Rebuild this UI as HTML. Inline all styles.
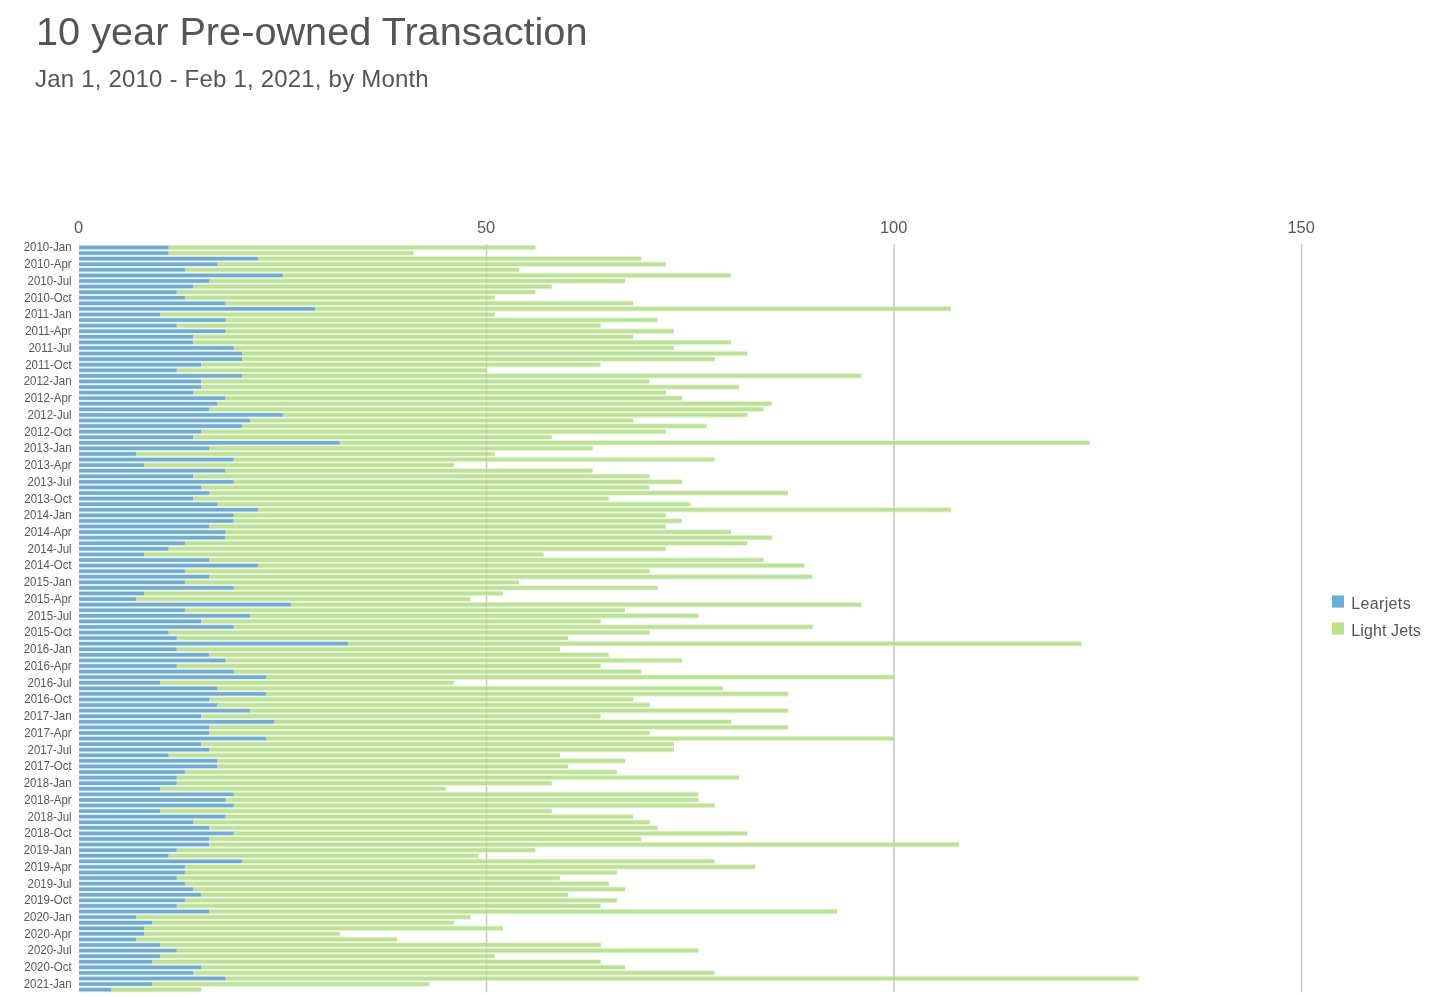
<!DOCTYPE html>
<html><head><meta charset="utf-8"><title>10 year Pre-owned Transaction</title>
<style>
html,body{margin:0;padding:0;background:#fff;}
body{width:1445px;height:997px;position:relative;overflow:hidden;font-family:"Liberation Sans",sans-serif;}
.t,.s{will-change:transform;}
.t{position:absolute;left:36.2px;top:8.0px;font-size:39.7px;line-height:46px;color:#555;white-space:nowrap;}
.s{position:absolute;left:35.2px;top:64.5px;font-size:24px;letter-spacing:0.2px;line-height:28px;color:#555;white-space:nowrap;}
</style></head><body>
<div class="t" id="t">10 year Pre-owned Transaction</div>
<div class="s" id="s">Jan 1, 2010 - Feb 1, 2021, by Month</div>
<svg width="1445" height="997" viewBox="0 0 1445 997" style="position:absolute;left:0;top:0;will-change:transform">
<g fill="#cdcdcd"><rect x="485.80" y="244.3" width="1.4" height="748"/><rect x="893.30" y="244.3" width="1.4" height="748"/><rect x="1300.80" y="244.3" width="1.4" height="748"/></g>
<g fill="#d6f8fb"><rect x="79.0" y="244.71" width="89.7" height="5.58"/><rect x="79.0" y="250.29" width="89.7" height="5.58"/><rect x="79.0" y="255.87" width="179.3" height="5.58"/><rect x="79.0" y="261.45" width="138.6" height="5.58"/><rect x="79.0" y="267.03" width="105.9" height="5.58"/><rect x="79.0" y="272.61" width="203.8" height="5.58"/><rect x="79.0" y="278.19" width="130.4" height="5.58"/><rect x="79.0" y="283.77" width="114.1" height="5.58"/><rect x="79.0" y="289.35" width="97.8" height="5.58"/><rect x="79.0" y="294.93" width="105.9" height="5.58"/><rect x="79.0" y="300.51" width="146.7" height="5.58"/><rect x="79.0" y="306.09" width="236.4" height="5.58"/><rect x="79.0" y="311.67" width="81.5" height="5.58"/><rect x="79.0" y="317.25" width="146.7" height="5.58"/><rect x="79.0" y="322.83" width="97.8" height="5.58"/><rect x="79.0" y="328.41" width="146.7" height="5.58"/><rect x="79.0" y="333.99" width="114.1" height="5.58"/><rect x="79.0" y="339.57" width="114.1" height="5.58"/><rect x="79.0" y="345.15" width="154.8" height="5.58"/><rect x="79.0" y="350.73" width="163.0" height="5.58"/><rect x="79.0" y="356.31" width="163.0" height="5.58"/><rect x="79.0" y="361.89" width="122.2" height="5.58"/><rect x="79.0" y="367.47" width="97.8" height="5.58"/><rect x="79.0" y="373.05" width="163.0" height="5.58"/><rect x="79.0" y="378.63" width="122.2" height="5.58"/><rect x="79.0" y="384.21" width="122.2" height="5.58"/><rect x="79.0" y="389.79" width="114.1" height="5.58"/><rect x="79.0" y="395.37" width="146.7" height="5.58"/><rect x="79.0" y="400.95" width="138.6" height="5.58"/><rect x="79.0" y="406.53" width="130.4" height="5.58"/><rect x="79.0" y="412.11" width="203.8" height="5.58"/><rect x="79.0" y="417.69" width="171.2" height="5.58"/><rect x="79.0" y="423.27" width="163.0" height="5.58"/><rect x="79.0" y="428.85" width="122.2" height="5.58"/><rect x="79.0" y="434.43" width="114.1" height="5.58"/><rect x="79.0" y="440.01" width="260.8" height="5.58"/><rect x="79.0" y="445.59" width="130.4" height="5.58"/><rect x="79.0" y="451.17" width="57.1" height="5.58"/><rect x="79.0" y="456.75" width="154.8" height="5.58"/><rect x="79.0" y="462.33" width="65.2" height="5.58"/><rect x="79.0" y="467.91" width="146.7" height="5.58"/><rect x="79.0" y="473.49" width="114.1" height="5.58"/><rect x="79.0" y="479.07" width="154.8" height="5.58"/><rect x="79.0" y="484.65" width="122.2" height="5.58"/><rect x="79.0" y="490.23" width="130.4" height="5.58"/><rect x="79.0" y="495.81" width="114.1" height="5.58"/><rect x="79.0" y="501.39" width="138.6" height="5.58"/><rect x="79.0" y="506.97" width="179.3" height="5.58"/><rect x="79.0" y="512.55" width="154.8" height="5.58"/><rect x="79.0" y="518.13" width="154.8" height="5.58"/><rect x="79.0" y="523.71" width="130.4" height="5.58"/><rect x="79.0" y="529.29" width="146.7" height="5.58"/><rect x="79.0" y="534.87" width="146.7" height="5.58"/><rect x="79.0" y="540.45" width="105.9" height="5.58"/><rect x="79.0" y="546.03" width="89.7" height="5.58"/><rect x="79.0" y="551.61" width="65.2" height="5.58"/><rect x="79.0" y="557.19" width="130.4" height="5.58"/><rect x="79.0" y="562.77" width="179.3" height="5.58"/><rect x="79.0" y="568.35" width="105.9" height="5.58"/><rect x="79.0" y="573.93" width="130.4" height="5.58"/><rect x="79.0" y="579.51" width="105.9" height="5.58"/><rect x="79.0" y="585.09" width="154.8" height="5.58"/><rect x="79.0" y="590.67" width="65.2" height="5.58"/><rect x="79.0" y="596.25" width="57.1" height="5.58"/><rect x="79.0" y="601.83" width="211.9" height="5.58"/><rect x="79.0" y="607.41" width="105.9" height="5.58"/><rect x="79.0" y="612.99" width="171.2" height="5.58"/><rect x="79.0" y="618.57" width="122.2" height="5.58"/><rect x="79.0" y="624.15" width="154.8" height="5.58"/><rect x="79.0" y="629.73" width="89.7" height="5.58"/><rect x="79.0" y="635.31" width="97.8" height="5.58"/><rect x="79.0" y="640.89" width="268.9" height="5.58"/><rect x="79.0" y="646.47" width="97.8" height="5.58"/><rect x="79.0" y="652.05" width="130.4" height="5.58"/><rect x="79.0" y="657.63" width="146.7" height="5.58"/><rect x="79.0" y="663.21" width="97.8" height="5.58"/><rect x="79.0" y="668.79" width="154.8" height="5.58"/><rect x="79.0" y="674.37" width="187.5" height="5.58"/><rect x="79.0" y="679.95" width="81.5" height="5.58"/><rect x="79.0" y="685.53" width="138.6" height="5.58"/><rect x="79.0" y="691.11" width="187.5" height="5.58"/><rect x="79.0" y="696.69" width="130.4" height="5.58"/><rect x="79.0" y="702.27" width="138.6" height="5.58"/><rect x="79.0" y="707.85" width="171.2" height="5.58"/><rect x="79.0" y="713.43" width="122.2" height="5.58"/><rect x="79.0" y="719.01" width="195.6" height="5.58"/><rect x="79.0" y="724.59" width="130.4" height="5.58"/><rect x="79.0" y="730.17" width="130.4" height="5.58"/><rect x="79.0" y="735.75" width="187.5" height="5.58"/><rect x="79.0" y="741.33" width="122.2" height="5.58"/><rect x="79.0" y="746.91" width="130.4" height="5.58"/><rect x="79.0" y="752.49" width="89.7" height="5.58"/><rect x="79.0" y="758.07" width="138.6" height="5.58"/><rect x="79.0" y="763.65" width="138.6" height="5.58"/><rect x="79.0" y="769.23" width="105.9" height="5.58"/><rect x="79.0" y="774.81" width="97.8" height="5.58"/><rect x="79.0" y="780.39" width="97.8" height="5.58"/><rect x="79.0" y="785.97" width="81.5" height="5.58"/><rect x="79.0" y="791.55" width="154.8" height="5.58"/><rect x="79.0" y="797.13" width="146.7" height="5.58"/><rect x="79.0" y="802.71" width="154.8" height="5.58"/><rect x="79.0" y="808.29" width="81.5" height="5.58"/><rect x="79.0" y="813.87" width="146.7" height="5.58"/><rect x="79.0" y="819.45" width="114.1" height="5.58"/><rect x="79.0" y="825.03" width="130.4" height="5.58"/><rect x="79.0" y="830.61" width="154.8" height="5.58"/><rect x="79.0" y="836.19" width="130.4" height="5.58"/><rect x="79.0" y="841.77" width="130.4" height="5.58"/><rect x="79.0" y="847.35" width="97.8" height="5.58"/><rect x="79.0" y="852.93" width="89.7" height="5.58"/><rect x="79.0" y="858.51" width="163.0" height="5.58"/><rect x="79.0" y="864.09" width="105.9" height="5.58"/><rect x="79.0" y="869.67" width="105.9" height="5.58"/><rect x="79.0" y="875.25" width="97.8" height="5.58"/><rect x="79.0" y="880.83" width="105.9" height="5.58"/><rect x="79.0" y="886.41" width="114.1" height="5.58"/><rect x="79.0" y="891.99" width="122.2" height="5.58"/><rect x="79.0" y="897.57" width="105.9" height="5.58"/><rect x="79.0" y="903.15" width="97.8" height="5.58"/><rect x="79.0" y="908.73" width="130.4" height="5.58"/><rect x="79.0" y="914.31" width="57.1" height="5.58"/><rect x="79.0" y="919.89" width="73.4" height="5.58"/><rect x="79.0" y="925.47" width="65.2" height="5.58"/><rect x="79.0" y="931.05" width="65.2" height="5.58"/><rect x="79.0" y="936.63" width="57.1" height="5.58"/><rect x="79.0" y="942.21" width="81.5" height="5.58"/><rect x="79.0" y="947.79" width="97.8" height="5.58"/><rect x="79.0" y="953.37" width="81.5" height="5.58"/><rect x="79.0" y="958.95" width="73.4" height="5.58"/><rect x="79.0" y="964.53" width="122.2" height="5.58"/><rect x="79.0" y="970.11" width="114.1" height="5.58"/><rect x="79.0" y="975.69" width="146.7" height="5.58"/><rect x="79.0" y="981.27" width="73.4" height="5.58"/><rect x="79.0" y="986.85" width="32.6" height="5.58"/></g>
<g fill="#e4fad1"><rect x="168.7" y="244.71" width="366.8" height="5.58"/><rect x="168.7" y="250.29" width="244.5" height="5.58"/><rect x="258.3" y="255.87" width="383.1" height="5.58"/><rect x="217.6" y="261.45" width="448.3" height="5.58"/><rect x="184.9" y="267.03" width="334.2" height="5.58"/><rect x="282.8" y="272.61" width="448.2" height="5.58"/><rect x="209.4" y="278.19" width="415.7" height="5.58"/><rect x="193.1" y="283.77" width="358.6" height="5.58"/><rect x="176.8" y="289.35" width="358.6" height="5.58"/><rect x="184.9" y="294.93" width="309.7" height="5.58"/><rect x="225.7" y="300.51" width="407.5" height="5.58"/><rect x="315.4" y="306.09" width="635.7" height="5.58"/><rect x="160.5" y="311.67" width="334.2" height="5.58"/><rect x="225.7" y="317.25" width="431.9" height="5.58"/><rect x="176.8" y="322.83" width="423.8" height="5.58"/><rect x="225.7" y="328.41" width="448.2" height="5.58"/><rect x="193.1" y="333.99" width="440.1" height="5.58"/><rect x="193.1" y="339.57" width="537.9" height="5.58"/><rect x="233.8" y="345.15" width="440.1" height="5.58"/><rect x="242.0" y="350.73" width="505.3" height="5.58"/><rect x="242.0" y="356.31" width="472.7" height="5.58"/><rect x="201.2" y="361.89" width="399.4" height="5.58"/><rect x="176.8" y="367.47" width="309.7" height="5.58"/><rect x="242.0" y="373.05" width="619.4" height="5.58"/><rect x="201.2" y="378.63" width="448.2" height="5.58"/><rect x="201.2" y="384.21" width="537.9" height="5.58"/><rect x="193.1" y="389.79" width="472.7" height="5.58"/><rect x="225.7" y="395.37" width="456.4" height="5.58"/><rect x="217.6" y="400.95" width="554.2" height="5.58"/><rect x="209.4" y="406.53" width="554.2" height="5.58"/><rect x="282.8" y="412.11" width="464.6" height="5.58"/><rect x="250.2" y="417.69" width="383.1" height="5.58"/><rect x="242.0" y="423.27" width="464.6" height="5.58"/><rect x="201.2" y="428.85" width="464.6" height="5.58"/><rect x="193.1" y="434.43" width="358.6" height="5.58"/><rect x="339.8" y="440.01" width="749.8" height="5.58"/><rect x="209.4" y="445.59" width="383.1" height="5.58"/><rect x="136.1" y="451.17" width="358.6" height="5.58"/><rect x="233.8" y="456.75" width="480.9" height="5.58"/><rect x="144.2" y="462.33" width="309.7" height="5.58"/><rect x="225.7" y="467.91" width="366.8" height="5.58"/><rect x="193.1" y="473.49" width="456.4" height="5.58"/><rect x="233.8" y="479.07" width="448.2" height="5.58"/><rect x="201.2" y="484.65" width="448.2" height="5.58"/><rect x="209.4" y="490.23" width="578.7" height="5.58"/><rect x="193.1" y="495.81" width="415.6" height="5.58"/><rect x="217.6" y="501.39" width="472.7" height="5.58"/><rect x="258.3" y="506.97" width="692.8" height="5.58"/><rect x="233.8" y="512.55" width="432.0" height="5.58"/><rect x="233.8" y="518.13" width="448.2" height="5.58"/><rect x="209.4" y="523.71" width="456.4" height="5.58"/><rect x="225.7" y="529.29" width="505.3" height="5.58"/><rect x="225.7" y="534.87" width="546.0" height="5.58"/><rect x="184.9" y="540.45" width="562.4" height="5.58"/><rect x="168.7" y="546.03" width="497.2" height="5.58"/><rect x="144.2" y="551.61" width="399.3" height="5.58"/><rect x="209.4" y="557.19" width="554.2" height="5.58"/><rect x="258.3" y="562.77" width="546.0" height="5.58"/><rect x="184.9" y="568.35" width="464.6" height="5.58"/><rect x="209.4" y="573.93" width="603.1" height="5.58"/><rect x="184.9" y="579.51" width="334.2" height="5.58"/><rect x="233.8" y="585.09" width="423.8" height="5.58"/><rect x="144.2" y="590.67" width="358.6" height="5.58"/><rect x="136.1" y="596.25" width="334.2" height="5.58"/><rect x="290.9" y="601.83" width="570.5" height="5.58"/><rect x="184.9" y="607.41" width="440.1" height="5.58"/><rect x="250.2" y="612.99" width="448.2" height="5.58"/><rect x="201.2" y="618.57" width="399.4" height="5.58"/><rect x="233.8" y="624.15" width="578.6" height="5.58"/><rect x="168.7" y="629.73" width="480.9" height="5.58"/><rect x="176.8" y="635.31" width="391.2" height="5.58"/><rect x="347.9" y="640.89" width="733.5" height="5.58"/><rect x="176.8" y="646.47" width="383.1" height="5.58"/><rect x="209.4" y="652.05" width="399.4" height="5.58"/><rect x="225.7" y="657.63" width="456.4" height="5.58"/><rect x="176.8" y="663.21" width="423.8" height="5.58"/><rect x="233.8" y="668.79" width="407.5" height="5.58"/><rect x="266.5" y="674.37" width="627.5" height="5.58"/><rect x="160.5" y="679.95" width="293.4" height="5.58"/><rect x="217.6" y="685.53" width="505.3" height="5.58"/><rect x="266.5" y="691.11" width="521.6" height="5.58"/><rect x="209.4" y="696.69" width="423.8" height="5.58"/><rect x="217.6" y="702.27" width="431.9" height="5.58"/><rect x="250.2" y="707.85" width="537.9" height="5.58"/><rect x="201.2" y="713.43" width="399.4" height="5.58"/><rect x="274.6" y="719.01" width="456.4" height="5.58"/><rect x="209.4" y="724.59" width="578.7" height="5.58"/><rect x="209.4" y="730.17" width="440.1" height="5.58"/><rect x="266.5" y="735.75" width="627.5" height="5.58"/><rect x="201.2" y="741.33" width="472.7" height="5.58"/><rect x="209.4" y="746.91" width="464.6" height="5.58"/><rect x="168.7" y="752.49" width="391.2" height="5.58"/><rect x="217.6" y="758.07" width="407.5" height="5.58"/><rect x="217.6" y="763.65" width="350.4" height="5.58"/><rect x="184.9" y="769.23" width="431.9" height="5.58"/><rect x="176.8" y="774.81" width="562.3" height="5.58"/><rect x="176.8" y="780.39" width="374.9" height="5.58"/><rect x="160.5" y="785.97" width="285.2" height="5.58"/><rect x="233.8" y="791.55" width="464.5" height="5.58"/><rect x="225.7" y="797.13" width="472.7" height="5.58"/><rect x="233.8" y="802.71" width="480.9" height="5.58"/><rect x="160.5" y="808.29" width="391.2" height="5.58"/><rect x="225.7" y="813.87" width="407.5" height="5.58"/><rect x="193.1" y="819.45" width="456.4" height="5.58"/><rect x="209.4" y="825.03" width="448.2" height="5.58"/><rect x="233.8" y="830.61" width="513.5" height="5.58"/><rect x="209.4" y="836.19" width="432.0" height="5.58"/><rect x="209.4" y="841.77" width="749.8" height="5.58"/><rect x="176.8" y="847.35" width="358.6" height="5.58"/><rect x="168.7" y="852.93" width="309.7" height="5.58"/><rect x="242.0" y="858.51" width="472.7" height="5.58"/><rect x="184.9" y="864.09" width="570.5" height="5.58"/><rect x="184.9" y="869.67" width="431.9" height="5.58"/><rect x="176.8" y="875.25" width="383.1" height="5.58"/><rect x="184.9" y="880.83" width="423.8" height="5.58"/><rect x="193.1" y="886.41" width="432.0" height="5.58"/><rect x="201.2" y="891.99" width="366.8" height="5.58"/><rect x="184.9" y="897.57" width="431.9" height="5.58"/><rect x="176.8" y="903.15" width="423.8" height="5.58"/><rect x="209.4" y="908.73" width="627.6" height="5.58"/><rect x="136.1" y="914.31" width="334.2" height="5.58"/><rect x="152.4" y="919.89" width="301.6" height="5.58"/><rect x="144.2" y="925.47" width="358.6" height="5.58"/><rect x="144.2" y="931.05" width="195.6" height="5.58"/><rect x="136.1" y="936.63" width="260.8" height="5.58"/><rect x="160.5" y="942.21" width="440.1" height="5.58"/><rect x="176.8" y="947.79" width="521.6" height="5.58"/><rect x="160.5" y="953.37" width="334.2" height="5.58"/><rect x="152.4" y="958.95" width="448.2" height="5.58"/><rect x="201.2" y="964.53" width="423.8" height="5.58"/><rect x="193.1" y="970.11" width="521.6" height="5.58"/><rect x="225.7" y="975.69" width="912.8" height="5.58"/><rect x="152.4" y="981.27" width="277.1" height="5.58"/><rect x="111.6" y="986.85" width="89.7" height="5.58"/></g>
<g fill="#79a8cc"><rect x="79.0" y="245.70" width="89.7" height="3.6"/><rect x="79.0" y="251.28" width="89.7" height="3.6"/><rect x="79.0" y="256.86" width="179.3" height="3.6"/><rect x="79.0" y="262.44" width="138.6" height="3.6"/><rect x="79.0" y="268.02" width="105.9" height="3.6"/><rect x="79.0" y="273.60" width="203.8" height="3.6"/><rect x="79.0" y="279.18" width="130.4" height="3.6"/><rect x="79.0" y="284.76" width="114.1" height="3.6"/><rect x="79.0" y="290.34" width="97.8" height="3.6"/><rect x="79.0" y="295.92" width="105.9" height="3.6"/><rect x="79.0" y="301.50" width="146.7" height="3.6"/><rect x="79.0" y="307.08" width="236.4" height="3.6"/><rect x="79.0" y="312.66" width="81.5" height="3.6"/><rect x="79.0" y="318.24" width="146.7" height="3.6"/><rect x="79.0" y="323.82" width="97.8" height="3.6"/><rect x="79.0" y="329.40" width="146.7" height="3.6"/><rect x="79.0" y="334.98" width="114.1" height="3.6"/><rect x="79.0" y="340.56" width="114.1" height="3.6"/><rect x="79.0" y="346.14" width="154.8" height="3.6"/><rect x="79.0" y="351.72" width="163.0" height="3.6"/><rect x="79.0" y="357.30" width="163.0" height="3.6"/><rect x="79.0" y="362.88" width="122.2" height="3.6"/><rect x="79.0" y="368.46" width="97.8" height="3.6"/><rect x="79.0" y="374.04" width="163.0" height="3.6"/><rect x="79.0" y="379.62" width="122.2" height="3.6"/><rect x="79.0" y="385.20" width="122.2" height="3.6"/><rect x="79.0" y="390.78" width="114.1" height="3.6"/><rect x="79.0" y="396.36" width="146.7" height="3.6"/><rect x="79.0" y="401.94" width="138.6" height="3.6"/><rect x="79.0" y="407.52" width="130.4" height="3.6"/><rect x="79.0" y="413.10" width="203.8" height="3.6"/><rect x="79.0" y="418.68" width="171.2" height="3.6"/><rect x="79.0" y="424.26" width="163.0" height="3.6"/><rect x="79.0" y="429.84" width="122.2" height="3.6"/><rect x="79.0" y="435.42" width="114.1" height="3.6"/><rect x="79.0" y="441.00" width="260.8" height="3.6"/><rect x="79.0" y="446.58" width="130.4" height="3.6"/><rect x="79.0" y="452.16" width="57.1" height="3.6"/><rect x="79.0" y="457.74" width="154.8" height="3.6"/><rect x="79.0" y="463.32" width="65.2" height="3.6"/><rect x="79.0" y="468.90" width="146.7" height="3.6"/><rect x="79.0" y="474.48" width="114.1" height="3.6"/><rect x="79.0" y="480.06" width="154.8" height="3.6"/><rect x="79.0" y="485.64" width="122.2" height="3.6"/><rect x="79.0" y="491.22" width="130.4" height="3.6"/><rect x="79.0" y="496.80" width="114.1" height="3.6"/><rect x="79.0" y="502.38" width="138.6" height="3.6"/><rect x="79.0" y="507.96" width="179.3" height="3.6"/><rect x="79.0" y="513.54" width="154.8" height="3.6"/><rect x="79.0" y="519.12" width="154.8" height="3.6"/><rect x="79.0" y="524.70" width="130.4" height="3.6"/><rect x="79.0" y="530.28" width="146.7" height="3.6"/><rect x="79.0" y="535.86" width="146.7" height="3.6"/><rect x="79.0" y="541.44" width="105.9" height="3.6"/><rect x="79.0" y="547.02" width="89.7" height="3.6"/><rect x="79.0" y="552.60" width="65.2" height="3.6"/><rect x="79.0" y="558.18" width="130.4" height="3.6"/><rect x="79.0" y="563.76" width="179.3" height="3.6"/><rect x="79.0" y="569.34" width="105.9" height="3.6"/><rect x="79.0" y="574.92" width="130.4" height="3.6"/><rect x="79.0" y="580.50" width="105.9" height="3.6"/><rect x="79.0" y="586.08" width="154.8" height="3.6"/><rect x="79.0" y="591.66" width="65.2" height="3.6"/><rect x="79.0" y="597.24" width="57.1" height="3.6"/><rect x="79.0" y="602.82" width="211.9" height="3.6"/><rect x="79.0" y="608.40" width="105.9" height="3.6"/><rect x="79.0" y="613.98" width="171.2" height="3.6"/><rect x="79.0" y="619.56" width="122.2" height="3.6"/><rect x="79.0" y="625.14" width="154.8" height="3.6"/><rect x="79.0" y="630.72" width="89.7" height="3.6"/><rect x="79.0" y="636.30" width="97.8" height="3.6"/><rect x="79.0" y="641.88" width="268.9" height="3.6"/><rect x="79.0" y="647.46" width="97.8" height="3.6"/><rect x="79.0" y="653.04" width="130.4" height="3.6"/><rect x="79.0" y="658.62" width="146.7" height="3.6"/><rect x="79.0" y="664.20" width="97.8" height="3.6"/><rect x="79.0" y="669.78" width="154.8" height="3.6"/><rect x="79.0" y="675.36" width="187.5" height="3.6"/><rect x="79.0" y="680.94" width="81.5" height="3.6"/><rect x="79.0" y="686.52" width="138.6" height="3.6"/><rect x="79.0" y="692.10" width="187.5" height="3.6"/><rect x="79.0" y="697.68" width="130.4" height="3.6"/><rect x="79.0" y="703.26" width="138.6" height="3.6"/><rect x="79.0" y="708.84" width="171.2" height="3.6"/><rect x="79.0" y="714.42" width="122.2" height="3.6"/><rect x="79.0" y="720.00" width="195.6" height="3.6"/><rect x="79.0" y="725.58" width="130.4" height="3.6"/><rect x="79.0" y="731.16" width="130.4" height="3.6"/><rect x="79.0" y="736.74" width="187.5" height="3.6"/><rect x="79.0" y="742.32" width="122.2" height="3.6"/><rect x="79.0" y="747.90" width="130.4" height="3.6"/><rect x="79.0" y="753.48" width="89.7" height="3.6"/><rect x="79.0" y="759.06" width="138.6" height="3.6"/><rect x="79.0" y="764.64" width="138.6" height="3.6"/><rect x="79.0" y="770.22" width="105.9" height="3.6"/><rect x="79.0" y="775.80" width="97.8" height="3.6"/><rect x="79.0" y="781.38" width="97.8" height="3.6"/><rect x="79.0" y="786.96" width="81.5" height="3.6"/><rect x="79.0" y="792.54" width="154.8" height="3.6"/><rect x="79.0" y="798.12" width="146.7" height="3.6"/><rect x="79.0" y="803.70" width="154.8" height="3.6"/><rect x="79.0" y="809.28" width="81.5" height="3.6"/><rect x="79.0" y="814.86" width="146.7" height="3.6"/><rect x="79.0" y="820.44" width="114.1" height="3.6"/><rect x="79.0" y="826.02" width="130.4" height="3.6"/><rect x="79.0" y="831.60" width="154.8" height="3.6"/><rect x="79.0" y="837.18" width="130.4" height="3.6"/><rect x="79.0" y="842.76" width="130.4" height="3.6"/><rect x="79.0" y="848.34" width="97.8" height="3.6"/><rect x="79.0" y="853.92" width="89.7" height="3.6"/><rect x="79.0" y="859.50" width="163.0" height="3.6"/><rect x="79.0" y="865.08" width="105.9" height="3.6"/><rect x="79.0" y="870.66" width="105.9" height="3.6"/><rect x="79.0" y="876.24" width="97.8" height="3.6"/><rect x="79.0" y="881.82" width="105.9" height="3.6"/><rect x="79.0" y="887.40" width="114.1" height="3.6"/><rect x="79.0" y="892.98" width="122.2" height="3.6"/><rect x="79.0" y="898.56" width="105.9" height="3.6"/><rect x="79.0" y="904.14" width="97.8" height="3.6"/><rect x="79.0" y="909.72" width="130.4" height="3.6"/><rect x="79.0" y="915.30" width="57.1" height="3.6"/><rect x="79.0" y="920.88" width="73.4" height="3.6"/><rect x="79.0" y="926.46" width="65.2" height="3.6"/><rect x="79.0" y="932.04" width="65.2" height="3.6"/><rect x="79.0" y="937.62" width="57.1" height="3.6"/><rect x="79.0" y="943.20" width="81.5" height="3.6"/><rect x="79.0" y="948.78" width="97.8" height="3.6"/><rect x="79.0" y="954.36" width="81.5" height="3.6"/><rect x="79.0" y="959.94" width="73.4" height="3.6"/><rect x="79.0" y="965.52" width="122.2" height="3.6"/><rect x="79.0" y="971.10" width="114.1" height="3.6"/><rect x="79.0" y="976.68" width="146.7" height="3.6"/><rect x="79.0" y="982.26" width="73.4" height="3.6"/><rect x="79.0" y="987.84" width="32.6" height="3.6"/></g>
<g fill="#c0df9d"><rect x="168.7" y="245.70" width="366.8" height="3.6"/><rect x="168.7" y="251.28" width="244.5" height="3.6"/><rect x="258.3" y="256.86" width="383.1" height="3.6"/><rect x="217.6" y="262.44" width="448.3" height="3.6"/><rect x="184.9" y="268.02" width="334.2" height="3.6"/><rect x="282.8" y="273.60" width="448.2" height="3.6"/><rect x="209.4" y="279.18" width="415.7" height="3.6"/><rect x="193.1" y="284.76" width="358.6" height="3.6"/><rect x="176.8" y="290.34" width="358.6" height="3.6"/><rect x="184.9" y="295.92" width="309.7" height="3.6"/><rect x="225.7" y="301.50" width="407.5" height="3.6"/><rect x="315.4" y="307.08" width="635.7" height="3.6"/><rect x="160.5" y="312.66" width="334.2" height="3.6"/><rect x="225.7" y="318.24" width="431.9" height="3.6"/><rect x="176.8" y="323.82" width="423.8" height="3.6"/><rect x="225.7" y="329.40" width="448.2" height="3.6"/><rect x="193.1" y="334.98" width="440.1" height="3.6"/><rect x="193.1" y="340.56" width="537.9" height="3.6"/><rect x="233.8" y="346.14" width="440.1" height="3.6"/><rect x="242.0" y="351.72" width="505.3" height="3.6"/><rect x="242.0" y="357.30" width="472.7" height="3.6"/><rect x="201.2" y="362.88" width="399.4" height="3.6"/><rect x="176.8" y="368.46" width="309.7" height="3.6"/><rect x="242.0" y="374.04" width="619.4" height="3.6"/><rect x="201.2" y="379.62" width="448.2" height="3.6"/><rect x="201.2" y="385.20" width="537.9" height="3.6"/><rect x="193.1" y="390.78" width="472.7" height="3.6"/><rect x="225.7" y="396.36" width="456.4" height="3.6"/><rect x="217.6" y="401.94" width="554.2" height="3.6"/><rect x="209.4" y="407.52" width="554.2" height="3.6"/><rect x="282.8" y="413.10" width="464.6" height="3.6"/><rect x="250.2" y="418.68" width="383.1" height="3.6"/><rect x="242.0" y="424.26" width="464.6" height="3.6"/><rect x="201.2" y="429.84" width="464.6" height="3.6"/><rect x="193.1" y="435.42" width="358.6" height="3.6"/><rect x="339.8" y="441.00" width="749.8" height="3.6"/><rect x="209.4" y="446.58" width="383.1" height="3.6"/><rect x="136.1" y="452.16" width="358.6" height="3.6"/><rect x="233.8" y="457.74" width="480.9" height="3.6"/><rect x="144.2" y="463.32" width="309.7" height="3.6"/><rect x="225.7" y="468.90" width="366.8" height="3.6"/><rect x="193.1" y="474.48" width="456.4" height="3.6"/><rect x="233.8" y="480.06" width="448.2" height="3.6"/><rect x="201.2" y="485.64" width="448.2" height="3.6"/><rect x="209.4" y="491.22" width="578.7" height="3.6"/><rect x="193.1" y="496.80" width="415.6" height="3.6"/><rect x="217.6" y="502.38" width="472.7" height="3.6"/><rect x="258.3" y="507.96" width="692.8" height="3.6"/><rect x="233.8" y="513.54" width="432.0" height="3.6"/><rect x="233.8" y="519.12" width="448.2" height="3.6"/><rect x="209.4" y="524.70" width="456.4" height="3.6"/><rect x="225.7" y="530.28" width="505.3" height="3.6"/><rect x="225.7" y="535.86" width="546.0" height="3.6"/><rect x="184.9" y="541.44" width="562.4" height="3.6"/><rect x="168.7" y="547.02" width="497.2" height="3.6"/><rect x="144.2" y="552.60" width="399.3" height="3.6"/><rect x="209.4" y="558.18" width="554.2" height="3.6"/><rect x="258.3" y="563.76" width="546.0" height="3.6"/><rect x="184.9" y="569.34" width="464.6" height="3.6"/><rect x="209.4" y="574.92" width="603.1" height="3.6"/><rect x="184.9" y="580.50" width="334.2" height="3.6"/><rect x="233.8" y="586.08" width="423.8" height="3.6"/><rect x="144.2" y="591.66" width="358.6" height="3.6"/><rect x="136.1" y="597.24" width="334.2" height="3.6"/><rect x="290.9" y="602.82" width="570.5" height="3.6"/><rect x="184.9" y="608.40" width="440.1" height="3.6"/><rect x="250.2" y="613.98" width="448.2" height="3.6"/><rect x="201.2" y="619.56" width="399.4" height="3.6"/><rect x="233.8" y="625.14" width="578.6" height="3.6"/><rect x="168.7" y="630.72" width="480.9" height="3.6"/><rect x="176.8" y="636.30" width="391.2" height="3.6"/><rect x="347.9" y="641.88" width="733.5" height="3.6"/><rect x="176.8" y="647.46" width="383.1" height="3.6"/><rect x="209.4" y="653.04" width="399.4" height="3.6"/><rect x="225.7" y="658.62" width="456.4" height="3.6"/><rect x="176.8" y="664.20" width="423.8" height="3.6"/><rect x="233.8" y="669.78" width="407.5" height="3.6"/><rect x="266.5" y="675.36" width="627.5" height="3.6"/><rect x="160.5" y="680.94" width="293.4" height="3.6"/><rect x="217.6" y="686.52" width="505.3" height="3.6"/><rect x="266.5" y="692.10" width="521.6" height="3.6"/><rect x="209.4" y="697.68" width="423.8" height="3.6"/><rect x="217.6" y="703.26" width="431.9" height="3.6"/><rect x="250.2" y="708.84" width="537.9" height="3.6"/><rect x="201.2" y="714.42" width="399.4" height="3.6"/><rect x="274.6" y="720.00" width="456.4" height="3.6"/><rect x="209.4" y="725.58" width="578.7" height="3.6"/><rect x="209.4" y="731.16" width="440.1" height="3.6"/><rect x="266.5" y="736.74" width="627.5" height="3.6"/><rect x="201.2" y="742.32" width="472.7" height="3.6"/><rect x="209.4" y="747.90" width="464.6" height="3.6"/><rect x="168.7" y="753.48" width="391.2" height="3.6"/><rect x="217.6" y="759.06" width="407.5" height="3.6"/><rect x="217.6" y="764.64" width="350.4" height="3.6"/><rect x="184.9" y="770.22" width="431.9" height="3.6"/><rect x="176.8" y="775.80" width="562.3" height="3.6"/><rect x="176.8" y="781.38" width="374.9" height="3.6"/><rect x="160.5" y="786.96" width="285.2" height="3.6"/><rect x="233.8" y="792.54" width="464.5" height="3.6"/><rect x="225.7" y="798.12" width="472.7" height="3.6"/><rect x="233.8" y="803.70" width="480.9" height="3.6"/><rect x="160.5" y="809.28" width="391.2" height="3.6"/><rect x="225.7" y="814.86" width="407.5" height="3.6"/><rect x="193.1" y="820.44" width="456.4" height="3.6"/><rect x="209.4" y="826.02" width="448.2" height="3.6"/><rect x="233.8" y="831.60" width="513.5" height="3.6"/><rect x="209.4" y="837.18" width="432.0" height="3.6"/><rect x="209.4" y="842.76" width="749.8" height="3.6"/><rect x="176.8" y="848.34" width="358.6" height="3.6"/><rect x="168.7" y="853.92" width="309.7" height="3.6"/><rect x="242.0" y="859.50" width="472.7" height="3.6"/><rect x="184.9" y="865.08" width="570.5" height="3.6"/><rect x="184.9" y="870.66" width="431.9" height="3.6"/><rect x="176.8" y="876.24" width="383.1" height="3.6"/><rect x="184.9" y="881.82" width="423.8" height="3.6"/><rect x="193.1" y="887.40" width="432.0" height="3.6"/><rect x="201.2" y="892.98" width="366.8" height="3.6"/><rect x="184.9" y="898.56" width="431.9" height="3.6"/><rect x="176.8" y="904.14" width="423.8" height="3.6"/><rect x="209.4" y="909.72" width="627.6" height="3.6"/><rect x="136.1" y="915.30" width="334.2" height="3.6"/><rect x="152.4" y="920.88" width="301.6" height="3.6"/><rect x="144.2" y="926.46" width="358.6" height="3.6"/><rect x="144.2" y="932.04" width="195.6" height="3.6"/><rect x="136.1" y="937.62" width="260.8" height="3.6"/><rect x="160.5" y="943.20" width="440.1" height="3.6"/><rect x="176.8" y="948.78" width="521.6" height="3.6"/><rect x="160.5" y="954.36" width="334.2" height="3.6"/><rect x="152.4" y="959.94" width="448.2" height="3.6"/><rect x="201.2" y="965.52" width="423.8" height="3.6"/><rect x="193.1" y="971.10" width="521.6" height="3.6"/><rect x="225.7" y="976.68" width="912.8" height="3.6"/><rect x="152.4" y="982.26" width="277.1" height="3.6"/><rect x="111.6" y="987.84" width="89.7" height="3.6"/></g>
<g fill="#9a9a9a" fill-opacity="0.2"><rect x="485.80" y="244.3" width="1.4" height="748"/><rect x="893.30" y="244.3" width="1.4" height="748"/><rect x="1300.80" y="244.3" width="1.4" height="748"/></g>
<g font-family="Liberation Sans, sans-serif" font-size="16.4" fill="#555" text-anchor="middle">
<text x="78.6" y="232.9">0</text>
<text x="486.1" y="232.9">50</text>
<text x="893.6" y="232.9">100</text>
<text x="1301.1" y="232.9">150</text>
</g>
<g font-family="Liberation Sans, sans-serif" font-size="12.3" fill="#585858" text-anchor="end">
<text transform="translate(71.6,251.40) scale(0.935,1)">2010-Jan</text>
<text transform="translate(71.6,268.14) scale(0.935,1)">2010-Apr</text>
<text transform="translate(71.6,284.88) scale(0.935,1)">2010-Jul</text>
<text transform="translate(71.6,301.62) scale(0.935,1)">2010-Oct</text>
<text transform="translate(71.6,318.36) scale(0.935,1)">2011-Jan</text>
<text transform="translate(71.6,335.10) scale(0.935,1)">2011-Apr</text>
<text transform="translate(71.6,351.84) scale(0.935,1)">2011-Jul</text>
<text transform="translate(71.6,368.58) scale(0.935,1)">2011-Oct</text>
<text transform="translate(71.6,385.32) scale(0.935,1)">2012-Jan</text>
<text transform="translate(71.6,402.06) scale(0.935,1)">2012-Apr</text>
<text transform="translate(71.6,418.80) scale(0.935,1)">2012-Jul</text>
<text transform="translate(71.6,435.54) scale(0.935,1)">2012-Oct</text>
<text transform="translate(71.6,452.28) scale(0.935,1)">2013-Jan</text>
<text transform="translate(71.6,469.02) scale(0.935,1)">2013-Apr</text>
<text transform="translate(71.6,485.76) scale(0.935,1)">2013-Jul</text>
<text transform="translate(71.6,502.50) scale(0.935,1)">2013-Oct</text>
<text transform="translate(71.6,519.24) scale(0.935,1)">2014-Jan</text>
<text transform="translate(71.6,535.98) scale(0.935,1)">2014-Apr</text>
<text transform="translate(71.6,552.72) scale(0.935,1)">2014-Jul</text>
<text transform="translate(71.6,569.46) scale(0.935,1)">2014-Oct</text>
<text transform="translate(71.6,586.20) scale(0.935,1)">2015-Jan</text>
<text transform="translate(71.6,602.94) scale(0.935,1)">2015-Apr</text>
<text transform="translate(71.6,619.68) scale(0.935,1)">2015-Jul</text>
<text transform="translate(71.6,636.42) scale(0.935,1)">2015-Oct</text>
<text transform="translate(71.6,653.16) scale(0.935,1)">2016-Jan</text>
<text transform="translate(71.6,669.90) scale(0.935,1)">2016-Apr</text>
<text transform="translate(71.6,686.64) scale(0.935,1)">2016-Jul</text>
<text transform="translate(71.6,703.38) scale(0.935,1)">2016-Oct</text>
<text transform="translate(71.6,720.12) scale(0.935,1)">2017-Jan</text>
<text transform="translate(71.6,736.86) scale(0.935,1)">2017-Apr</text>
<text transform="translate(71.6,753.60) scale(0.935,1)">2017-Jul</text>
<text transform="translate(71.6,770.34) scale(0.935,1)">2017-Oct</text>
<text transform="translate(71.6,787.08) scale(0.935,1)">2018-Jan</text>
<text transform="translate(71.6,803.82) scale(0.935,1)">2018-Apr</text>
<text transform="translate(71.6,820.56) scale(0.935,1)">2018-Jul</text>
<text transform="translate(71.6,837.30) scale(0.935,1)">2018-Oct</text>
<text transform="translate(71.6,854.04) scale(0.935,1)">2019-Jan</text>
<text transform="translate(71.6,870.78) scale(0.935,1)">2019-Apr</text>
<text transform="translate(71.6,887.52) scale(0.935,1)">2019-Jul</text>
<text transform="translate(71.6,904.26) scale(0.935,1)">2019-Oct</text>
<text transform="translate(71.6,921.00) scale(0.935,1)">2020-Jan</text>
<text transform="translate(71.6,937.74) scale(0.935,1)">2020-Apr</text>
<text transform="translate(71.6,954.48) scale(0.935,1)">2020-Jul</text>
<text transform="translate(71.6,971.22) scale(0.935,1)">2020-Oct</text>
<text transform="translate(71.6,987.96) scale(0.935,1)">2021-Jan</text>
</g>
<rect x="1332" y="595.4" width="12" height="12.2" fill="#6aadd6"/>
<rect x="1332" y="622.4" width="12" height="12.2" fill="#bbe28d"/>
<g font-family="Liberation Sans, sans-serif" font-size="16" fill="#555">
<text x="1351.3" y="609.1" letter-spacing="0.35">Learjets</text>
<text x="1351.3" y="635.5" letter-spacing="0.1">Light Jets</text>
</g>
</svg>
</body></html>
